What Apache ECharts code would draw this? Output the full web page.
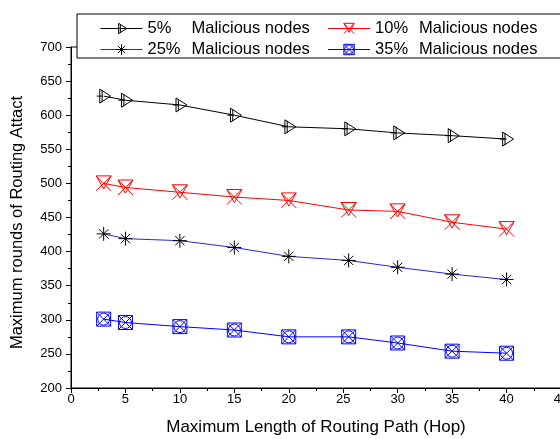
<!DOCTYPE html>
<html>
<head>
<meta charset="utf-8">
<script src="https://cdn.jsdelivr.net/npm/echarts@6/dist/echarts.min.js"></script>
<style>
  html, body { margin: 0; padding: 0; background: #fff; }
  #chart { width: 560px; height: 439px; }
</style>
</head>
<body>
<div id="chart"></div>
<script>
// Maximum path length (hops) on the x axis
const hops = [3, 5, 10, 15, 20, 25.5, 30, 35, 40];

// Maximum rounds of routing attack for each share of malicious nodes
const rounds5 = [628, 622, 615, 600, 583, 580, 574, 570, 565];
const rounds10 = [500, 494, 487, 480, 475, 461, 459, 443, 433];
const rounds25 = [426, 419, 416, 406, 393, 387, 377, 367, 359];
const rounds35 = [301, 296, 290, 285, 275, 275, 266, 254, 251];

const seriesNames = ['5%', '10%', '25%', '35%'];
const nameSuffix = 'Malicious nodes';

// Open, stroked marker outlines
const symTriCross = 'path://M0,10 L8,10 M7,3 L7,17 M4,2 L18,10 L4,18 Z';
const symTriX = 'path://M2,3 L18,3 L10,17 Z M2,3 L18,19 M18,3 L2,19';
const symStar = 'path://M10,1 L10,19 M1,10 L19,10 M4,4 L16,16 M16,4 L4,16';
const symBoxO = 'path://M3,3 L17,3 L17,17 L3,17 Z M3,3 L17,17 M17,3 L3,17 M4,10 A6,6 0 1 1 16,10 A6,6 0 1 1 4,10 Z';

function pairs(ys) { return hops.map((x, i) => [x, ys[i]]); }

const FONT = 'Liberation Sans, Arial, sans-serif';

function makeSeries(label, ys, lineColor, markColor, symbol, size) {
  return {
    name: label,
    type: 'line',
    data: pairs(ys),
    symbol: symbol,
    symbolSize: size,
    showAllSymbol: true,
    lineStyle: { color: lineColor, width: 1 },
    itemStyle: { color: 'none', borderColor: markColor, borderWidth: 1 },
    emphasis: { disabled: true },
    z: 3
  };
}

const chart = echarts.init(document.getElementById('chart'), null, { renderer: 'canvas' });

chart.setOption({
  animation: false,
  backgroundColor: '#fff',
  textStyle: { fontFamily: FONT },
  grid: {
    left: 71, top: 47, width: 490, height: 341,
    outerBoundsMode: 'none',
    containLabel: false,
    show: true, borderColor: '#000', borderWidth: 1, backgroundColor: 'transparent'
  },
  legend: {
    data: seriesNames,
    left: 77, top: 14,
    width: 470,
    orient: 'horizontal',
    itemWidth: 42, itemHeight: 13, itemGap: 4,
    padding: [6, 30, 0, 23],
    backgroundColor: '#fff',
    borderColor: '#000', borderWidth: 1,
    selectedMode: false,
    z: 10,
    itemStyle: { color: 'none', borderWidth: 1 },
    lineStyle: { width: 1 },
    // trailing no-break spaces widen each entry so the two columns sit apart
    formatter: n => '{p|' + n + '}{s|' + nameSuffix + '\u00a0\u00a0\u00a0}',
    textStyle: {
      fontFamily: FONT, fontSize: 16.5, color: '#000',
      rich: {
        p: { width: 44, fontFamily: FONT, fontSize: 16.5, color: '#000' },
        s: { fontFamily: FONT, fontSize: 16.5, color: '#000' }
      }
    }
  },
  xAxis: {
    type: 'value', min: 0, max: 45, interval: 5,
    name: 'Maximum Length of Routing Path (Hop)',
    nameLocation: 'middle', nameGap: 31,
    nameTextStyle: { fontFamily: FONT, fontSize: 17, color: '#000' },
    axisLine: { show: true, onZero: false, lineStyle: { color: '#000', width: 1 } },
    axisTick: { show: true, inside: false, length: 5, lineStyle: { color: '#000' } },
    minorTick: { show: true, splitNumber: 2, length: 3, lineStyle: { color: '#000' } },
    splitLine: { show: false },
    axisLabel: { margin: 5, fontFamily: FONT, fontSize: 13, color: '#000' }
  },
  yAxis: {
    type: 'value', min: 200, max: 700, interval: 50,
    name: 'Maximum rounds of Routing Attact',
    nameLocation: 'middle', nameGap: 45,
    nameTextStyle: { fontFamily: FONT, fontSize: 16.5, color: '#000', padding: [0, 10, 0, 0] },
    axisLine: { show: true, onZero: false, lineStyle: { color: '#000', width: 1 } },
    axisTick: { show: true, inside: false, length: 5, lineStyle: { color: '#000' } },
    minorTick: { show: true, splitNumber: 2, length: 3, lineStyle: { color: '#000' } },
    splitLine: { show: false },
    axisLabel: { margin: 9, fontFamily: FONT, fontSize: 13, color: '#000' }
  },
  series: [
    makeSeries('5%', rounds5, '#000000', '#000000', symTriCross, 14),
    makeSeries('10%', rounds10, '#ff0000', '#ff0000', symTriX, 15),
    makeSeries('25%', rounds25, '#2828d0', '#000000', symStar, 14),
    makeSeries('35%', rounds35, '#0000ff', '#0000ff', symBoxO, 14)
  ]
});
</script>
</body>
</html>
